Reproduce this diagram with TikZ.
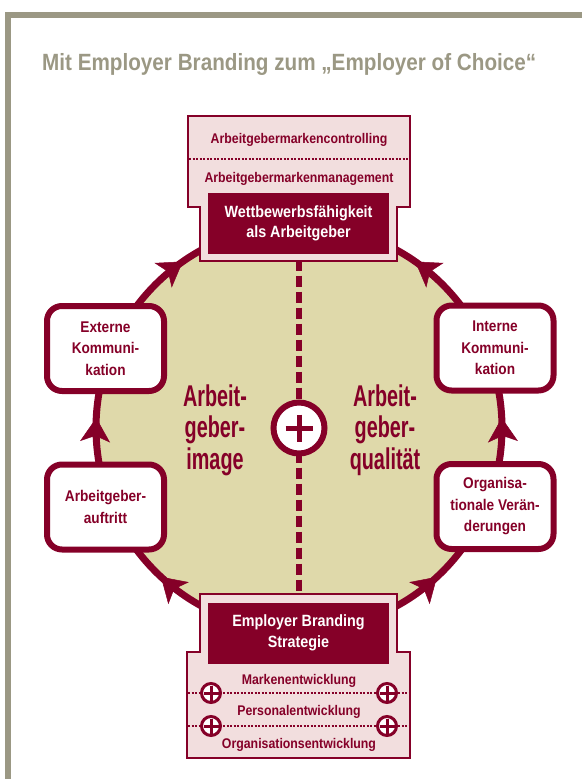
\documentclass[tikz,border=0pt]{standalone}
\usepackage{fontspec}
\setmainfont{Liberation Sans}[FakeStretch=0.88]
\newfontfamily\narrowfont{Liberation Sans}[FakeStretch=0.66]
\usepackage{tikz}
\usetikzlibrary{arrows.meta,decorations.markings}
\definecolor{brand_red}{RGB}{133,0,40}
\definecolor{ring_fill}{RGB}{223,217,170}
\definecolor{box_pink}{RGB}{242,222,222}
\definecolor{frame_gray}{RGB}{155,152,132}

\begin{document}
\begin{tikzpicture}[x=1pt,y=-1pt]
    \tikzstyle{frame}=[draw=frame_gray, line width=6pt]
    \tikzstyle{title}=[text=frame_gray, inner sep=0pt, font=\bfseries\fontsize{23.5}{26}\selectfont]
    \tikzstyle{ring}=[draw=brand_red, fill=ring_fill, line width=7pt]
    \tikzstyle{flow}=[postaction={decorate}, decoration={markings,
        mark=at position 0.131 with {\arrowreversed[line width=0.5pt]{Stealth[length=24pt,width=30pt,inset=6pt]}},
        mark=at position 0.369 with {\arrow[line width=0.5pt]{Stealth[length=24pt,width=30pt,inset=6pt]}},
        mark=at position 0.508 with {\arrow[line width=0.5pt]{Stealth[length=24pt,width=30pt,inset=6pt]}},
        mark=at position 0.653 with {\arrow[line width=0.5pt]{Stealth[length=24pt,width=30pt,inset=6pt]}},
        mark=at position 0.847 with {\arrowreversed[line width=0.5pt]{Stealth[length=24pt,width=30pt,inset=6pt]}},
        mark=at position 0.992 with {\arrowreversed[line width=0.5pt]{Stealth[length=24pt,width=30pt,inset=6pt]}}}]
    \tikzstyle{spine}=[draw=brand_red, line width=6pt, dash pattern=on 11.5pt off 4.5pt, dash phase=1.5pt]
    \tikzstyle{hub}=[circle, draw=brand_red, fill=white, line width=6pt, minimum size=51pt, inner sep=0pt]
    \tikzstyle{knot}=[circle, draw=brand_red, fill=white, line width=3pt, minimum size=19pt, inner sep=0pt]
    \tikzstyle{bigbar}=[draw=brand_red, line width=5pt]
    \tikzstyle{smallbar}=[draw=brand_red, line width=3pt]
    \tikzstyle{shelf}=[draw=brand_red, fill=box_pink, line width=2pt]
    \tikzstyle{dotline}=[draw=brand_red, line width=2pt, dash pattern=on 2pt off 1.5pt]
    \tikzstyle{tag}=[text=brand_red, inner sep=0pt, anchor=base, font=\bfseries\fontsize{14}{16}\selectfont]
    \tikzstyle{core}=[fill=brand_red, text=white, minimum width=181pt, minimum height=61pt, inner sep=0pt, align=center, font=\bfseries\fontsize{16.3}{20.5}\selectfont]
    \tikzstyle{station}=[draw=brand_red, fill=white, line width=6pt, rounded corners=15pt, minimum width=117pt, minimum height=85pt, inner sep=0pt, align=center, text=brand_red, font=\bfseries\fontsize{15.5}{21.5}\selectfont]
    \tikzstyle{quality}=[text=brand_red, inner sep=0pt, align=center, font=\narrowfont\bfseries\fontsize{30}{31.5}\selectfont]

    \useasboundingbox (0,0) rectangle (582,779);

    % outer frame and heading
    \draw[frame] (8,779) -- (8,15) -- (582,15);
    \node[title, anchor=base west] (title) at (42,70) {Mit Employer Branding zum „Employer of Choice“};

    % the cycle
    \coordinate (centre) at (299,428);
    \draw[ring, flow] (centre) circle[radius=203];
    \coordinate (spinetop) at (299,261);
    \coordinate (spinebot) at (299,594);
    \draw[spine] (spinetop) -- (spinebot);
    \node[hub] (hub) at (centre) {};
    \draw[bigbar] (hub) +(-13.5,0) -- +(13.5,0) (hub) +(0,-13.5) -- +(0,13.5);

    % top shelf
    \draw[shelf] (188,116) -- (410,116) -- (410,207) -- (397,207) -- (397,261)
        -- (200,261) -- (200,207) -- (188,207) -- cycle;
    \draw[dotline] (189,159) -- (409,159);
    \node[tag] (ctrl) at (299,143) {Arbeitgebermarkencontrolling};
    \node[tag] (mgmt) at (299,182.5) {Arbeitgebermarkenmanagement};
    \node[core] (wett) at (298.5,223.5) {Wettbewerbsfähigkeit\\als Arbeitgeber};

    % bottom shelf
    \draw[shelf] (200,594) -- (397,594) -- (397,652) -- (410,652) -- (410,758)
        -- (187,758) -- (187,652) -- (200,652) -- cycle;
    \node[core] (strat) at (298.5,633) {Employer Branding\\Strategie};
    \draw[dotline] (188,693) -- (409,693);
    \draw[dotline] (188,726) -- (409,726);
    \node[tag] (marke) at (299,684) {Markenentwicklung};
    \node[tag] (perso) at (299,715) {Personalentwicklung};
    \node[tag] (orga) at (299,748) {Organisationsentwicklung};
    \node[knot] (k1) at (211,693) {};
    \node[knot] (k2) at (387,693) {};
    \node[knot] (k3) at (211,726) {};
    \node[knot] (k4) at (387,726) {};
    \draw[smallbar] (k1) +(-7.5,0) -- +(7.5,0) (k1) +(0,-7.5) -- +(0,7.5);
    \draw[smallbar] (k2) +(-7.5,0) -- +(7.5,0) (k2) +(0,-7.5) -- +(0,7.5);
    \draw[smallbar] (k3) +(-7.5,0) -- +(7.5,0) (k3) +(0,-7.5) -- +(0,7.5);
    \draw[smallbar] (k4) +(-7.5,0) -- +(7.5,0) (k4) +(0,-7.5) -- +(0,7.5);

    % stations on the ring
    \node[station] (ext) at (105.5,348.5) {Externe\\Kommuni-\\kation};
    \node[station] (auf) at (105.5,507) {Arbeitgeber-\\auftritt};
    \node[station] (int) at (495,348) {Interne\\Kommuni-\\kation};
    \node[station] (org) at (495,506.5) {Organisa-\\tionale Verän-\\derungen};

    % the two halves
    \node[quality] (image) at (215,430) {Arbeit-\\geber-\\image};
    \node[quality] (quali) at (385,430) {Arbeit-\\geber-\\qualität};
\end{tikzpicture}
\end{document}
